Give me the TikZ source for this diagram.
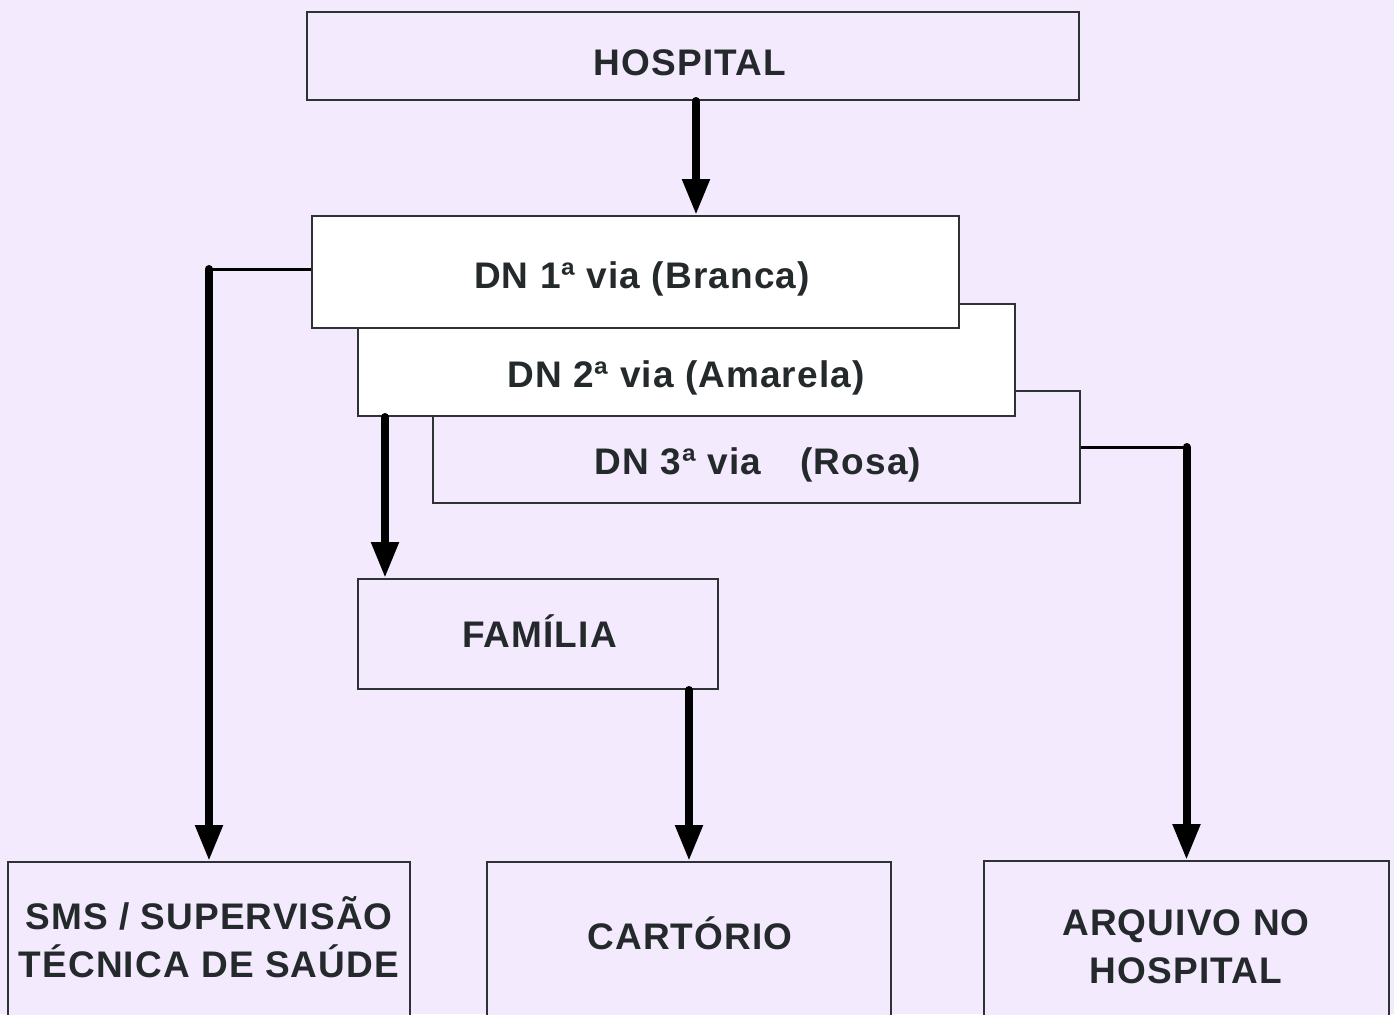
\documentclass[tikz,border=0pt]{standalone}
\usepackage{fontspec}
\setmainfont{Liberation Sans}
\newfontfamily\boxfont[LetterSpace=3]{Liberation Sans}
\usetikzlibrary{arrows.meta, positioning, calc}
\definecolor{PageLilac}{HTML}{F3EAFD}
\definecolor{BoxEdge}{HTML}{2E3235}
\definecolor{BoxText}{HTML}{24292C}
\tikzset{
    % Box styles
    docbox/.style={
        rectangle,
        draw=BoxEdge,
        fill=PageLilac,
        line width=1pt,
        inner sep=0pt
    },
    copybox/.style={
        docbox,
        fill=white
    },
    caption/.style={
        text=BoxText,
        font=\boxfont\bfseries\fontsize{18.5}{24}\selectfont,
        inner sep=0pt,
        text height=13.5pt,
        text depth=0pt
    },
    twoline/.style={
        caption,
        align=center,
        text height=,
        text depth=
    },
    % Connector styles
    feedline/.style={
        line width=1.5pt,
        black
    },
    flowarrow/.style={
        line width=4pt,
        black,
        line cap=round,
        -{Triangle[width=13pt,length=18pt]}
    }
}
\begin{document}
\begin{tikzpicture}[x=0.5pt, y=-0.5pt]
    \useasboundingbox (0,0) rectangle (1394,1014);
    \fill[PageLilac] (0,0) rectangle (1394,1014);
    \clip (0,0) rectangle (1394,1014);

    % Top box
    \node[docbox, minimum width=386pt, minimum height=44pt] (hospital) at (693,56) {};
    \node[caption] (hospitaltext) at (690,62) {HOSPITAL};

    % The three copies, back to front
    \node[docbox, minimum width=323.5pt, minimum height=56pt] (dn3) at (756.5,447) {};
    \node[caption] (dn3text) at (758,461) {DN 3ª via\hspace{14pt} (Rosa)};

    \node[copybox, minimum width=328.5pt, minimum height=56pt] (dn2) at (686.5,360) {};
    \node[caption] (dn2text) at (686,374) {DN 2ª via (Amarela)};

    \node[copybox, minimum width=323.5pt, minimum height=56pt] (dn1) at (635.5,272) {};
    \node[caption] (dn1text) at (642,275) {DN 1ª via (Branca)};

    % Middle box
    \node[docbox, minimum width=180pt, minimum height=55pt] (familia) at (538,634) {};
    \node[caption] (familiatext) at (539.5,634) {FAMÍLIA};

    % Destinations
    \node[docbox, minimum width=201pt, minimum height=89pt] (smsbox) at (209,951) {};
    \node[twoline] (smstext) at (209,937) {SMS / SUPERVISÃO\\TÉCNICA DE SAÚDE};

    \node[docbox, minimum width=202pt, minimum height=89pt] (cartbox) at (689,951) {};
    \node[caption] (carttext) at (690,936) {CARTÓRIO};

    \node[docbox, minimum width=202.5pt, minimum height=89.5pt] (arqbox) at (1186.5,950.5) {};
    \node[twoline] (arqtext) at (1186,947) {ARQUIVO NO\\HOSPITAL};

    % Connectors
    \draw[flowarrow] ([xshift=1.5pt]hospital.south) -- ([xshift=1.5pt]hospital.south |- dn1.north);

    \coordinate (smsbend) at ([yshift=1.5pt]dn1.west -| smsbox.north);
    \draw[feedline] ([yshift=1.5pt]dn1.west) -- (smsbend);
    \draw[flowarrow] (smsbend) -- (smsbox.north);

    \draw[flowarrow] ([xshift=14pt]dn2.south west) -- ([xshift=14pt]familia.north west);

    \coordinate (arqbend) at (dn3.east -| arqbox.north);
    \draw[feedline] (dn3.east) -- (arqbend);
    \draw[flowarrow] (arqbend) -- (arqbox.north);

    \draw[flowarrow] (familia.south -| cartbox.north) -- (cartbox.north);
\end{tikzpicture}
\end{document}
